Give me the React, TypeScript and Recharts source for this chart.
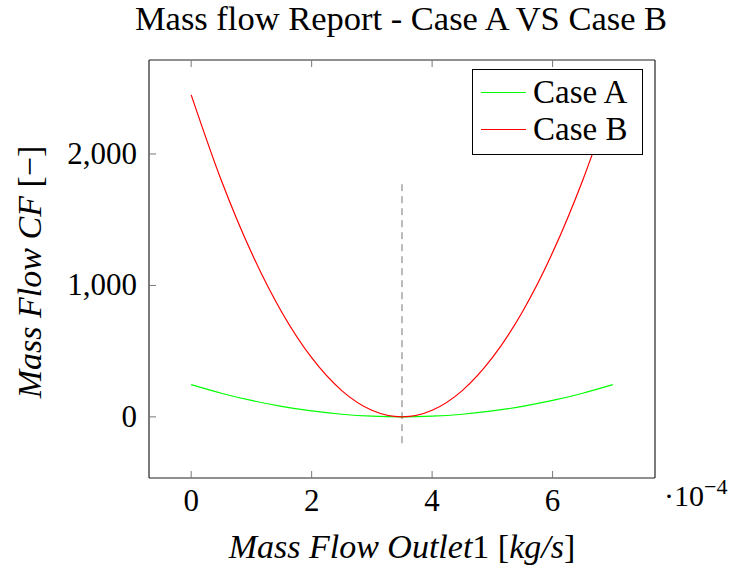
import { Legend, Line, LineChart, ReferenceLine, XAxis, YAxis } from "recharts"

// values (x in units of 1e-4 kg/s)
const flowOutlet = [0, 0.5, 1, 1.5, 2, 2.5, 3, 3.5, 4, 4.5, 5, 5.5, 6, 6.5, 7]
const caseA = [245, 180, 125, 80, 45, 20, 5, 0, 5, 20, 45, 80, 125, 180, 245]
const caseB = [2450, 1800, 1250, 800, 450, 200, 50, 0, 50, 200, 450, 800, 1250, 1800, 2450]
const seriesNames = ["Case A", "Case B"]
const seriesColors = ["#00ff00", "#ff0000"]
const xTicks = [0, 2, 4, 6]
const yTicks = [0, 1000, 2000]
const guideX = 3.5
const guideY = [-200, 1800]

const data = flowOutlet.map((x, i) => ({ x, a: caseA[i], b: caseB[i] }))

const FONT = "Liberation Serif"
const TICK = "#777777"
const FRAME = "#222222"
const txt = { fontFamily: FONT }

const BottomTick = (props: any) => {
  const { x, y, payload } = props
  return (
    <g>
      <line x1={x} x2={x} y1={y} y2={y - 7} stroke={TICK} />
      <text x={x} y={y + 33} textAnchor="middle" style={txt} fontSize={31} fill="#000">
        {payload.value}
      </text>
    </g>
  )
}

const TopTick = (props: any) => {
  const { x, y } = props
  return <line x1={x} x2={x} y1={y} y2={y + 7} stroke={TICK} />
}

const LeftTick = (props: any) => {
  const { x, y, payload } = props
  return (
    <g>
      <line x1={x} x2={x + 7} y1={y} y2={y} stroke={TICK} />
      <text x={x - 12} y={y + 10} textAnchor="end" style={txt} fontSize={31} fill="#000">
        {Number(payload.value).toLocaleString("en-US")}
      </text>
    </g>
  )
}

const RightTick = (props: any) => {
  const { x, y } = props
  return <line x1={x} x2={x - 7} y1={y} y2={y} stroke={TICK} />
}

const LegendBox = () => (
  <div
    style={{
      border: "1px solid #000",
      background: "#fff",
      width: 171,
      height: 86,
      boxSizing: "border-box",
      fontFamily: FONT,
      fontSize: 33,
      lineHeight: "37px",
      padding: "4px 0 0 0",
    }}
  >
    {seriesNames.map((n, i) => (
      <div key={n} style={{ display: "flex", alignItems: "center", height: 37 }}>
        <div style={{ width: 45, height: 1.3, background: seriesColors[i], margin: "0 7px 0 8px" }} />
        <span>{n}</span>
      </div>
    ))}
  </div>
)

export default function App() {
  return (
    <div style={{ position: "absolute", left: 0, top: 0, width: 735, height: 567, background: "#fff" }}>
      <LineChart width={735} height={567} data={data} margin={{ top: 59, right: 79, bottom: 29, left: 0 }}>
        <XAxis
          dataKey="x"
          type="number"
          domain={[-0.7, 7.7]}
          ticks={xTicks}
          height={60}
          tickSize={0}
          tickMargin={0}
          tickLine={false}
          axisLine={{ stroke: FRAME, strokeWidth: 1.2 }}
          tick={<BottomTick />}
        />
        <XAxis
          xAxisId="top"
          dataKey="x"
          type="number"
          orientation="top"
          domain={[-0.7, 7.7]}
          ticks={xTicks}
          height={1}
          tickSize={0}
          tickMargin={0}
          tickLine={false}
          axisLine={{ stroke: FRAME, strokeWidth: 1.2 }}
          tick={<TopTick />}
        />
        <YAxis
          type="number"
          domain={[-465, 2715]}
          ticks={yTicks}
          width={149}
          tickSize={0}
          tickMargin={0}
          tickLine={false}
          axisLine={{ stroke: FRAME, strokeWidth: 1.2 }}
          tick={<LeftTick />}
        />
        <YAxis
          yAxisId="right"
          orientation="right"
          type="number"
          domain={[-465, 2715]}
          ticks={yTicks}
          width={1}
          tickSize={0}
          tickMargin={0}
          tickLine={false}
          axisLine={{ stroke: FRAME, strokeWidth: 1.2 }}
          tick={<RightTick />}
        />
        <ReferenceLine
          segment={[{ x: guideX, y: guideY[0] }, { x: guideX, y: guideY[1] }]}
          stroke="#777777"
          strokeDasharray="7 5"
          ifOverflow="visible"
        />
        <Line type="monotone" dataKey="a" name={seriesNames[0]} stroke={seriesColors[0]} strokeWidth={1.2} dot={false} isAnimationActive={false} />
        <Line type="monotone" dataKey="b" name={seriesNames[1]} stroke={seriesColors[1]} strokeWidth={1.2} dot={false} isAnimationActive={false} />
        <Legend
          layout="vertical"
          align="center"
          verticalAlign="middle"
          content={<LegendBox />}
          wrapperStyle={{ left: 472, top: 69, width: 171, height: 86 }}
        />
        <text x={401} y={30} textAnchor="middle" style={txt} fontSize={34.5} fill="#000">
          Mass flow Report - Case A VS Case B
        </text>
        <text x={402} y={558} textAnchor="middle" style={txt} fontSize={34} fill="#000">
          <tspan fontStyle="italic">Mass Flow Outlet</tspan>
          <tspan>1 [</tspan>
          <tspan fontStyle="italic">kg/s</tspan>
          <tspan>]</tspan>
        </text>
        <text
          x={0}
          y={0}
          transform="translate(41 272) rotate(-90)"
          textAnchor="middle"
          style={txt}
          fontSize={34}
          fill="#000"
        >
          <tspan fontStyle="italic">Mass Flow CF</tspan>
          <tspan> [−]</tspan>
        </text>
        <text x={664} y={506} style={txt} fontSize={30} fill="#000">
          ·10<tspan dy={-12} fontSize={22}>−4</tspan>
        </text>
      </LineChart>
    </div>
  )
}
